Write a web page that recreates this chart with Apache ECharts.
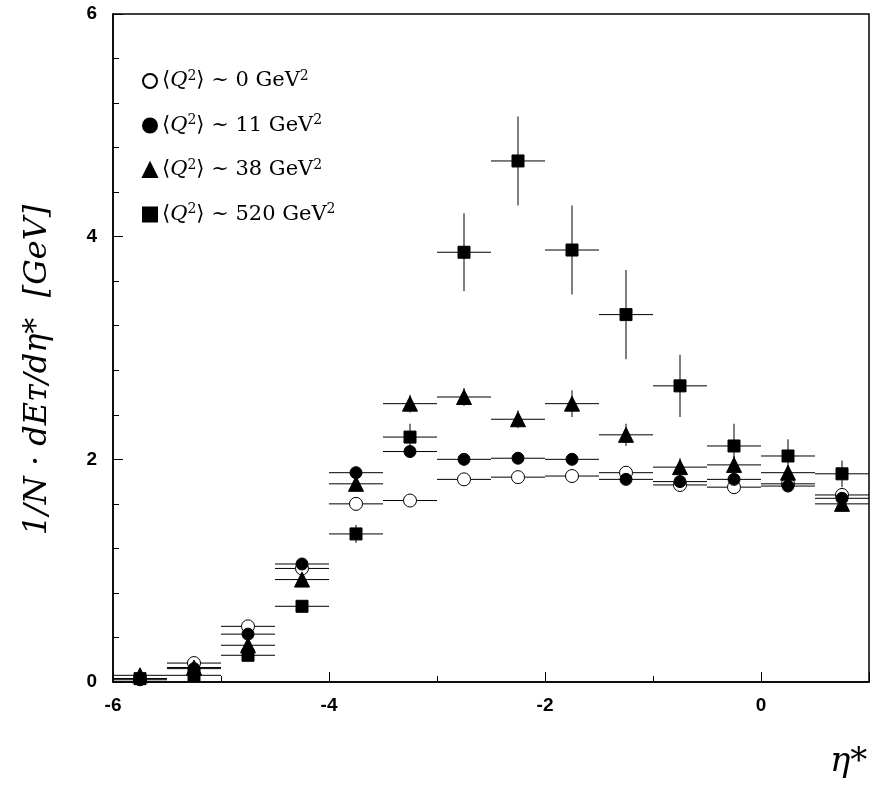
<!DOCTYPE html>
<html><head><meta charset="utf-8">
<script src="https://cdn.jsdelivr.net/npm/echarts@6/dist/echarts.min.js"></script>
<style>html,body{margin:0;background:#fff}#main{width:872px;height:799px}</style>
</head><body><div id="main"></div>
<script>
var eta = [-5.75,-5.25,-4.75,-4.25,-3.75,-3.25,-2.75,-2.25,-1.75,-1.25,-0.75,-0.25,0.25,0.75];
var q0   = [0.03,0.17,0.50,1.02,1.60,1.63,1.82,1.84,1.85,1.88,1.77,1.75,1.78,1.68];
var q11  = [0.02,0.12,0.43,1.06,1.88,2.07,2.00,2.01,2.00,1.82,1.80,1.82,1.76,1.65];
var q38  = [0.06,0.13,0.33,0.92,1.78,2.50,2.56,2.36,2.50,2.22,1.93,1.95,1.88,1.60];
var q520 = [0.03,0.06,0.24,0.68,1.33,2.20,3.86,4.68,3.88,3.30,2.66,2.12,2.03,1.87];
var err0   = [0,0,0,0,0.03,0,0,0,0,0,0,0,0,0];
var err11  = [0,0,0,0,0.03,0.04,0,0,0,0,0,0,0,0];
var err38  = [0,0,0,0,0.04,0.08,0.08,0.08,0.12,0.1,0.08,0.08,0.06,0.05];
var err520 = [0,0,0,0,0.08,0.12,0.35,0.4,0.4,0.4,0.28,0.2,0.15,0.12];
var q2vals = ['0','11','38','520'];
var names = q2vals.map(function(v){return 'Q2 ~ ' + v;});

function errSeries(vals, errs){
  return {
    type:'custom', silent:true, z:1,
    data: eta.map(function(x,i){return [x, vals[i], errs[i]];}),
    renderItem:function(params, api){
      var x=api.value(0), y=api.value(1), e=api.value(2);
      var a=api.coord([x-0.25,y]), b=api.coord([x+0.25,y]);
      var t=api.coord([x,y+e]), u=api.coord([x,y-e]);
      var st={stroke:'#000',lineWidth:1};
      return {type:'group',children:[
        {type:'line',shape:{x1:a[0],y1:a[1],x2:b[0],y2:b[1]},style:st},
        {type:'line',shape:{x1:t[0],y1:t[1],x2:u[0],y2:u[1]},style:st}
      ]};
    }
  };
}
function pts(name, vals, symbol, size, fill){
  return {name:name,type:'scatter',z:3,symbol:symbol,symbolSize:size,
    itemStyle:{color:fill,borderColor:'#000',borderWidth:1,opacity:1},
    data: eta.map(function(x,i){return [x, vals[i]];})};
}
var chart = echarts.init(document.getElementById('main'));
chart.setOption({
  animation:false,
  grid:{left:113,right:3,top:14,bottom:117},
  legend:{orient:'vertical',left:137,top:64,itemGap:22,itemWidth:14,itemHeight:14,
    data:names.map(function(n){return {name:n};}),
    formatter:function(n){return '\u27E8{i|Q}{s|2}\u27E9 ~ ' + n.split('~ ')[1] + ' GeV{s|2}';},
    textStyle:{fontFamily:'DejaVu Serif',fontSize:21,color:'#000',
      rich:{i:{fontFamily:'DejaVu Serif',fontStyle:'italic',fontSize:21},
            s:{fontFamily:'DejaVu Serif',fontSize:14,verticalAlign:'top',padding:[0,0,10,0]}}}},
  xAxis:{type:'value',min:-6,max:1,interval:2,
    axisLine:{onZero:false,lineStyle:{color:'#000',width:1.5}},
    axisTick:{inside:true,length:10,lineStyle:{color:'#000'}},
    minorTick:{show:true,splitNumber:2,length:6,lineStyle:{color:'#000'}},
    splitLine:{show:false},
    axisLabel:{margin:14,fontFamily:'Liberation Sans Narrow, Liberation Sans',fontWeight:'bold',fontSize:19,color:'#000',
      formatter:function(v){return v===1?'':String(v);}}},
  yAxis:{type:'value',min:0,max:6,interval:2,
    axisLine:{show:true,onZero:false,lineStyle:{color:'#000',width:1.5}},
    axisTick:{inside:true,length:10,lineStyle:{color:'#000'}},
    minorTick:{show:true,splitNumber:5,length:6,lineStyle:{color:'#000'}},
    splitLine:{show:false},
    axisLabel:{margin:16,fontFamily:'Liberation Sans Narrow, Liberation Sans',fontWeight:'bold',fontSize:19,color:'#000'}},
  graphic:[
    {type:'rect',shape:{x:113,y:14,width:756,height:668},style:{fill:'none',stroke:'#000',lineWidth:1.5},silent:true},
    {type:'text',left:830,top:745,style:{text:'\u03B7*',font:'italic 34px DejaVu Serif',fill:'#000'}},
    {type:'text',x:38,y:370,rotation:Math.PI/2,style:{text:'1/N \u00B7 dE\u1D1B/d\u03B7*  [GeV]',font:'italic 32px DejaVu Serif',fill:'#000',align:'center',verticalAlign:'middle'}}
  ],
  series:[
    errSeries(q0,err0),errSeries(q11,err11),errSeries(q38,err38),errSeries(q520,err520),
    pts(names[0],q0,'circle',13,'#fff'),
    pts(names[1],q11,'circle',12,'#000'),
    pts(names[2],q38,'triangle',15,'#000'),
    pts(names[3],q520,'rect',12,'#000')
  ]
});
</script></body></html>
